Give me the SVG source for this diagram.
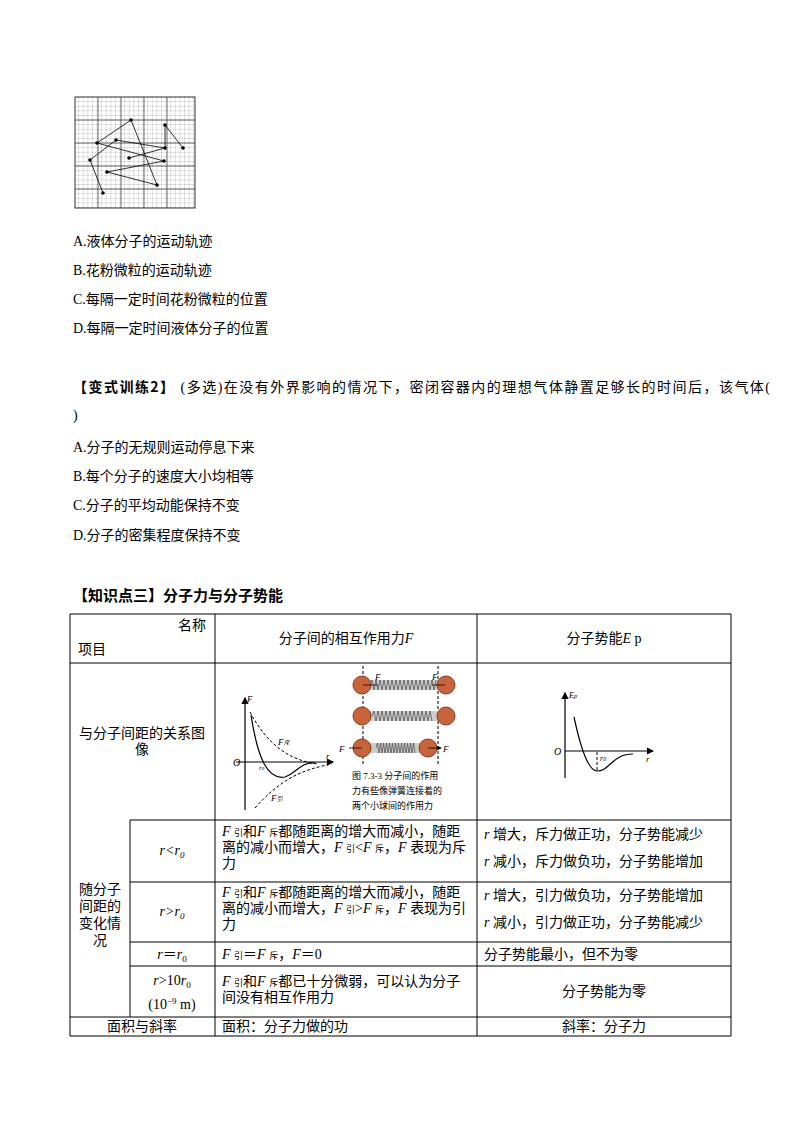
<svg xmlns="http://www.w3.org/2000/svg" width="800" height="1132" viewBox="0 0 800 1132">
<defs>
<style>
text{font-family:"Liberation Serif","Noto Sans CJK SC",serif;font-size:14px;fill:#000}
.b{font-weight:bold;font-family:"Noto Sans CJK SC",sans-serif}
.i{font-style:italic}
.s{font-size:9px}
.t{stroke:#000;stroke-width:1;fill:none}
.c{fill:none;stroke:#000;stroke-width:1.2}
.d{fill:none;stroke:#000;stroke-width:1;stroke-dasharray:3,2}
.ball{fill:#c8643c;stroke:#8a3a1e}
</style>
<pattern id="g" width="4.6" height="4.6" patternUnits="userSpaceOnUse"><path d="M0 0H4.6M0 0V4.6" stroke="#666" stroke-width="0.6" stroke-dasharray="1.5,1"/></pattern>
<marker id="ar" markerWidth="6" markerHeight="6" refX="5" refY="3" orient="auto"><path d="M0 0L6 3L0 6z" fill="#000"/></marker>
</defs>
<g id="grid">
<rect x="75" y="97" width="120" height="111" fill="url(#g)" stroke="#333"/>
<path d="M98 97V208M121 97V208M144 97V208M167 97V208M75 120H195M75 143H195M75 166H195M75 189H195" stroke="#444" stroke-width="0.8"/>
<g fill="#000">
<circle cx="131" cy="120" r="1.8"/><circle cx="97" cy="143" r="1.8"/><circle cx="116" cy="140" r="1.8"/><circle cx="129" cy="158" r="1.8"/><circle cx="90" cy="160" r="1.8"/><circle cx="103" cy="193" r="1.8"/><circle cx="165" cy="125" r="1.8"/><circle cx="183" cy="148" r="1.8"/><circle cx="165" cy="148" r="1.8"/><circle cx="164" cy="161" r="1.8"/><circle cx="107" cy="172" r="1.8"/><circle cx="157" cy="185" r="1.8"/></g>
<path d="M131 120L97 143L164 161L107 172L157 185L131 120M116 140L90 160L103 193M116 140L165 148L165 125L183 148M129 158L165 148" fill="none" stroke="#000" stroke-width="0.8"/>
</g>
<g id="q1">
<text x="73" y="246">A.液体分子的运动轨迹</text>
<text x="73" y="275">B.花粉微粒的运动轨迹</text>
<text x="73" y="304">C.每隔一定时间花粉微粒的位置</text>
<text x="73" y="333">D.每隔一定时间液体分子的位置</text>
</g>
<g id="q2">
<text x="73" y="392" textLength="697" lengthAdjust="spacing"><tspan class="b">【变式训练2】</tspan> (多选)在没有外界影响的情况下，密闭容器内的理想气体静置足够长的时间后，该气体(</text>
<text x="73" y="420">)</text>
<text x="73" y="452">A.分子的无规则运动停息下来</text>
<text x="73" y="481">B.每个分子的速度大小均相等</text>
<text x="73" y="510">C.分子的平均动能保持不变</text>
<text x="73" y="540">D.分子的密集程度保持不变</text>
<text x="73" y="601" class="b" style="font-size:15px">【知识点三】分子力与分子势能</text>
</g>
<g id="table">
<path class="t" d="M70 614H731V1036H70zM70 663H731M130 820H731M130 882H731M130 942H731M130 966H731M70 1017H731M215 614V1036M477 614V1036M130 820V1017"/>
<text x="178" y="630">名称</text>
<text x="78" y="654">项目</text>
<text x="346" y="643" text-anchor="middle">分子间的相互作用力<tspan class="i">F</tspan></text>
<text x="604" y="643" text-anchor="middle">分子势能<tspan class="i">E</tspan> p</text>
<text x="142" y="738" text-anchor="middle">与分子间距的关系图</text>
<text x="142" y="754" text-anchor="middle">像</text>
<text x="100" y="894" text-anchor="middle">随分子</text>
<text x="100" y="911" text-anchor="middle">间距的</text>
<text x="100" y="928" text-anchor="middle">变化情</text>
<text x="100" y="945" text-anchor="middle">况</text>
<text x="172" y="855" text-anchor="middle" class="i">r&lt;r<tspan class="s" dy="3">0</tspan></text>
<text x="172" y="916" text-anchor="middle" class="i">r&gt;r<tspan class="s" dy="3">0</tspan></text>
<text x="172" y="959" text-anchor="middle"><tspan class="i">r</tspan>＝<tspan class="i">r</tspan><tspan class="s" dy="3">0</tspan></text>
<text x="172" y="985" text-anchor="middle"><tspan class="i">r</tspan>&gt;10<tspan class="i">r</tspan><tspan class="s" dy="3">0</tspan></text>
<text x="172" y="1009" text-anchor="middle">(10<tspan class="s" dy="-5">−9</tspan><tspan dy="5">  m)</tspan></text>
<text x="222" y="836"><tspan class="i">F</tspan> <tspan class="s">引</tspan>和<tspan class="i">F</tspan> <tspan class="s">斥</tspan>都随距离的增大而减小，随距</text>
<text x="222" y="852">离的减小而增大，<tspan class="i">F</tspan> <tspan class="s">引</tspan>&lt;<tspan class="i">F</tspan> <tspan class="s">斥</tspan>，<tspan class="i">F</tspan> 表现为斥</text>
<text x="222" y="868">力</text>
<text x="222" y="897"><tspan class="i">F</tspan> <tspan class="s">引</tspan>和<tspan class="i">F</tspan> <tspan class="s">斥</tspan>都随距离的增大而减小，随距</text>
<text x="222" y="913">离的减小而增大，<tspan class="i">F</tspan> <tspan class="s">引</tspan>&gt;<tspan class="i">F</tspan> <tspan class="s">斥</tspan>，<tspan class="i">F</tspan> 表现为引</text>
<text x="222" y="929">力</text>
<text x="222" y="959"><tspan class="i">F</tspan> <tspan class="s">引</tspan>＝<tspan class="i">F</tspan> <tspan class="s">斥</tspan>，<tspan class="i">F</tspan>＝0</text>
<text x="222" y="986"><tspan class="i">F</tspan> <tspan class="s">引</tspan>和<tspan class="i">F</tspan> <tspan class="s">斥</tspan>都已十分微弱，可以认为分子</text>
<text x="222" y="1002">间没有相互作用力</text>
<text x="484" y="839"><tspan class="i">r</tspan> 增大，斥力做正功，分子势能减少</text>
<text x="484" y="866"><tspan class="i">r</tspan> 减小，斥力做负功，分子势能增加</text>
<text x="484" y="900"><tspan class="i">r</tspan> 增大，引力做负功，分子势能增加</text>
<text x="484" y="927"><tspan class="i">r</tspan> 减小，引力做正功，分子势能减少</text>
<text x="484" y="959">分子势能最小，但不为零</text>
<text x="604" y="996" text-anchor="middle">分子势能为零</text>
<text x="142" y="1031" text-anchor="middle">面积与斜率</text>
<text x="222" y="1031">面积：分子力做的功</text>
<text x="604" y="1031" text-anchor="middle">斜率：分子力</text>
</g>
<g id="fgraph">
<path class="c" d="M245 810V698" marker-end="url(#ar)"/>
<path class="c" d="M236 762H333" marker-end="url(#ar)"/>
<text x="247" y="702" class="i s">F</text>
<text x="233" y="766" class="i" style="font-size:10px">O</text>
<text x="326" y="759" class="i s">r</text>
<path class="c" d="M251 715C258 760 268 780 285 777C298 772 300 762 315 763"/>
<path class="d" d="M250 712C265 740 285 760 318 764"/>
<path class="d" d="M255 808C280 780 300 770 332 764"/>
<text x="278" y="745" class="i s">F<tspan style="font-size:6px">斥</tspan></text>
<text x="259" y="770" class="i" style="font-size:7px">r<tspan style="font-size:5px">0</tspan></text>
<text x="271" y="801" class="i s">F<tspan style="font-size:6px">引</tspan></text>
</g>
<g id="springs">
<path d="M363 666V765M438 666V765" class="d" stroke-width="0.6"/>
<rect x="362" y="680" width="84" height="10" fill="#ccc"/>
<path d="M370 685l2-5 2 10 2-10 2 10 2-10 2 10 2-10 2 10 2-10 2 10 2-10 2 10 2-10 2 10 2-10 2 10 2-10 2 10 2-10 2 10 2-10 2 10 2-10 2 10 2-10 2 10 2-10 2 10 2-10 2 10 2-10 2 10 2-10" fill="none" stroke="#333" stroke-width="0.6"/>
<rect x="362" y="711" width="84" height="10" fill="#ccc"/>
<path d="M372 716l2-5 2 10 2-10 2 10 2-10 2 10 2-10 2 10 2-10 2 10 2-10 2 10 2-10 2 10 2-10 2 10 2-10 2 10 2-10 2 10 2-10 2 10 2-10 2 10 2-10 2 10 2-10 2 10 2-10 2 10" fill="none" stroke="#333" stroke-width="0.6"/>
<rect x="362" y="743" width="66" height="10" fill="#ccc"/>
<path d="M376 748l1.5-5 1.5 10 1.5-10 1.5 10 1.5-10 1.5 10 1.5-10 1.5 10 1.5-10 1.5 10 1.5-10 1.5 10 1.5-10 1.5 10 1.5-10 1.5 10 1.5-10 1.5 10 1.5-10 1.5 10 1.5-10 1.5 10 1.5-10 1.5 10 1.5-10 1.5 10" fill="none" stroke="#333" stroke-width="0.6"/>
<circle class="ball" cx="362" cy="685" r="9"/><circle class="ball" cx="446" cy="685" r="9"/>
<circle class="ball" cx="362" cy="716" r="9"/><circle class="ball" cx="446" cy="716" r="9"/>
<circle class="ball" cx="362" cy="748" r="9"/><circle class="ball" cx="428" cy="748" r="9"/>
<path d="M363 685H378M445 685H432M362 748H349M428 748H441" stroke="#000" stroke-width="0.8" marker-end="url(#ar)"/>
<text x="375" y="680" class="i s">F</text><text x="432" y="680" class="i s">F</text>
<text x="339" y="752" class="i s">F</text><text x="443" y="752" class="i s">F</text>
<text x="352" y="779" class="s">图 7.3-3 分子间的作用</text>
<text x="352" y="794" class="s">力有些像弹簧连接着的</text>
<text x="352" y="809" class="s">两个小球间的作用力</text>
</g>
<g id="epgraph">
<path class="c" d="M565 778V693" marker-end="url(#ar)"/>
<path class="c" d="M565 751H653" marker-end="url(#ar)"/>
<text x="569" y="698" class="i" style="font-size:8px">E<tspan style="font-size:6px">p</tspan></text>
<text x="554" y="755" class="i" style="font-size:10px">O</text>
<text x="646" y="762" class="i s">r</text>
<path class="c" d="M574 717C580 745 588 771 597 771C610 771 612 754 633 754"/>
<path class="d" d="M597 752V770"/>
<text x="600" y="761" class="i" style="font-size:8px">r<tspan style="font-size:6px">0</tspan></text>
</g>
</svg>
